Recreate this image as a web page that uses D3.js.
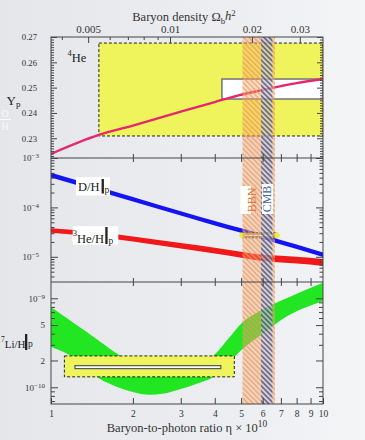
<!DOCTYPE html>
<html>
<head>
<meta charset="utf-8">
<script src="https://cdn.jsdelivr.net/npm/d3@7"></script>
<style>
  html, body { margin: 0; padding: 0; background: #eceef1; }
  svg { display: block; }
</style>
</head>
<body>
<svg id="chart" width="365" height="440"></svg>
<script>
// Primordial abundances of light elements versus the baryon-to-photon ratio

// eta (×10^10) sample points for He-4, D and He-3 predictions
const eta = [1, 1.5, 2, 3, 4, 5, 6, 7, 8, 10];
const ypMid = [0.2238, 0.2313, 0.2350, 0.2405, 0.2443, 0.2472, 0.2491, 0.2506, 0.2518, 0.2533];
const dhLow = [4.05e-4, 2.11e-4, 1.32e-4, 6.85e-5, 4.32e-5, 3.06e-5, 2.30e-5, 1.77e-5, 1.44e-5, 0.99e-5];
const dhHigh = [5.0e-4, 2.6e-4, 1.63e-4, 8.4e-5, 5.3e-5, 3.77e-5, 2.83e-5, 2.19e-5, 1.78e-5, 1.22e-5];
const he3Low = [3.06e-5, 2.5e-5, 2.04e-5, 1.47e-5, 1.16e-5, 9.57e-6, 8.2e-6, 7.7e-6, 7.3e-6, 6.55e-6];
const he3High = [3.77e-5, 3.14e-5, 2.59e-5, 1.9e-5, 1.52e-5, 1.265e-5, 1.1e-5, 1.05e-5, 1.0e-5, 9.05e-6];

// Li-7 band
const liEta = [1, 1.25, 1.5, 1.75, 2, 2.3, 2.6, 3, 3.5, 3.94, 4.5, 5, 6, 7.35, 10];
const liLow = [2.86e-10, 2.04e-10, 1.26e-10, 1.01e-10, 8.85e-11, 8.22e-11, 8.5e-11, 9.57e-11, 1.12e-10, 1.30e-10, 1.87e-10, 2.60e-10, 4.0e-10, 6.24e-10, 9.27e-10];
const liHigh = [7.92e-10, 4.94e-10, 3.33e-10, 2.38e-10, 1.91e-10, 1.62e-10, 1.58e-10, 1.66e-10, 1.91e-10, 2.25e-10, 3.55e-10, 5.19e-10, 7.5e-10, 1.0e-9, 1.49e-9];

// observational constraints (value ranges, eta ranges)
const ypObsOuter = [0.2309, 0.2676], ypObsOuterEta = [1.5, 10];
const ypObsInner = [0.2455, 0.2534], ypObsInnerEta = [4.25, 10];
const dhObsOuter = [2.42e-5, 3.08e-5], dhObsOuterEta = [5.04, 6.77];
const dhObsInner = [2.55e-5, 2.9e-5], dhObsInnerEta = [5.15, 6.6];
const liObsOuter = [1.31e-10, 2.25e-10], liObsOuterEta = [1.12, 4.72];
const liObsInner = [1.62e-10, 1.75e-10], liObsInnerEta = [1.225, 4.21];

// concordance ranges in eta
const bbnRange = [5.06, 6.66];
const cmbRange = [5.92, 6.52];

// ticks
const etaTicks = [1, 2, 3, 4, 5, 6, 7, 8, 9, 10];
const omegaTicks = [0.005, 0.01, 0.02, 0.03];
const omegaMinor = [0.004, 0.006, 0.007, 0.008, 0.009];
const ypTicks = [0.23, 0.24, 0.25, 0.26, 0.27];
const midTicks = [1e-3, 1e-4, 1e-5];
const botTicks = [1e-9, 5e-10, 2e-10, 1e-10];
const etaToOmega = 273.9;

const FONT = "'Liberation Serif', 'Times New Roman', serif";
const svg = d3.select("#chart").attr("font-family", FONT);
const L = 51, R = 323, T1 = 37, B1 = 158, B2 = 282, B3 = 404;

const x = d3.scaleLog().domain([1, 10]).range([L, R]);
const xOmega = d3.scaleLog().domain([1 / etaToOmega, 10 / etaToOmega]).range([L, R]);
const yTop = d3.scaleLinear().domain([0.2222, 0.27]).range([B1, T1]);
const yMid = d3.scaleLog().domain([Math.pow(10, -5.51), 1e-3]).range([B2, B1]);
const yBot = d3.scaleLog().domain([Math.pow(10, -10.188), Math.pow(10, -8.817)]).range([B3, B2]);

const defs = svg.append("defs");
const bg = defs.append("linearGradient").attr("id", "bg").attr("x1", 0).attr("x2", 1).attr("y1", 0).attr("y2", 0);
bg.append("stop").attr("offset", "0%").attr("stop-color", "#e4e6ea");
bg.append("stop").attr("offset", "65%").attr("stop-color", "#eceef1");
bg.append("stop").attr("offset", "100%").attr("stop-color", "#f4f5f7");

function hatch(id, color, w) {
  const p = defs.append("pattern").attr("id", id).attr("patternUnits", "userSpaceOnUse")
    .attr("width", 3.6).attr("height", 3.6).attr("patternTransform", "rotate(-45)");
  p.append("line").attr("x1", 1.8).attr("x2", 1.8).attr("y1", -1).attr("y2", 5)
    .attr("stroke", color).attr("stroke-width", w);
}
hatch("hOrange", "#ee965a", 1.3);
hatch("hNavy", "#363a68", 1.25);

[["cTop", T1, B1], ["cMid", B1, B2], ["cBot", B2, B3]].forEach(([id, a, b]) => {
  defs.append("clipPath").attr("id", id).append("rect").attr("x", L).attr("y", a).attr("width", R - L).attr("height", b - a);
});

svg.append("rect").attr("width", 365).attr("height", 440).attr("fill", "url(#bg)");

// faint fraction mark at the left edge
svg.append("text").attr("x", 5).attr("y", 117).attr("text-anchor", "middle").attr("font-size", 10)
  .attr("fill", "#ffffff").attr("opacity", 0.75).text("O");
svg.append("line").attr("x1", 0).attr("x2", 11).attr("y1", 119.5).attr("y2", 119.5)
  .attr("stroke", "#ffffff").attr("opacity", 0.75);
svg.append("text").attr("x", 5).attr("y", 129.5).attr("text-anchor", "middle").attr("font-size", 10)
  .attr("fill", "#ffffff").attr("opacity", 0.75).text("H");

const YELLOW = "#f0f45c";

function box(g, xs, ys, sx, sy, fill, stroke, dash, sw) {
  g.append("rect")
    .attr("x", sx(xs[0])).attr("width", sx(xs[1]) - sx(xs[0]))
    .attr("y", sy(ys[1])).attr("height", sy(ys[0]) - sy(ys[1]))
    .attr("fill", fill).attr("stroke", stroke).attr("stroke-width", sw)
    .attr("stroke-dasharray", dash);
}

// ---- He-4 panel
const gTop = svg.append("g").attr("clip-path", "url(#cTop)");
box(gTop, ypObsOuterEta, ypObsOuter, x, yTop, YELLOW, "#222", "3,2", 1);
box(gTop, ypObsInnerEta, ypObsInner, x, yTop, "#ffffff", "#7a7a7a", null, 1.6);
const ypData = eta.map((e, i) => ({ e, v: ypMid[i] }));
gTop.append("path").datum(ypData)
  .attr("d", d3.line().x(d => x(d.e)).y(d => yTop(d.v)).curve(d3.curveMonotoneX))
  .attr("fill", "none").attr("stroke", "#e4286e").attr("stroke-width", 2.4);

// ---- D and He-3 panel
const gMid = svg.append("g").attr("clip-path", "url(#cMid)");
const bandArea = (sy) => d3.area().x(d => x(d.e)).y0(d => sy(d.lo)).y1(d => sy(d.hi)).curve(d3.curveMonotoneX);
gMid.append("path").datum(eta.map((e, i) => ({ e, lo: dhLow[i], hi: dhHigh[i] })))
  .attr("d", bandArea(yMid)).attr("fill", "#1414f0");
gMid.append("path").datum(eta.map((e, i) => ({ e, lo: he3Low[i], hi: he3High[i] })))
  .attr("d", bandArea(yMid)).attr("fill", "#f01818");

box(gMid, dhObsOuterEta, dhObsOuter, x, yMid, YELLOW, "#222", "2,1.5", 1);
box(gMid, dhObsInnerEta, dhObsInner, x, yMid, "#ffffff", "#7a7a7a", null, 1.2);
const dhObsMid = Math.sqrt(dhObsOuter[0] * dhObsOuter[1]);
dhObsOuterEta.forEach(e => {
  gMid.append("circle").attr("cx", x(e)).attr("cy", yMid(dhObsMid)).attr("r", 2.8).attr("fill", "#e6f03a");
});

// ---- Li-7 panel
const gBot = svg.append("g").attr("clip-path", "url(#cBot)");
gBot.append("path").datum(liEta.map((e, i) => ({ e, lo: liLow[i], hi: liHigh[i] })))
  .attr("d", bandArea(yBot)).attr("fill", "#22e622");
box(gBot, liObsOuterEta, liObsOuter, x, yBot, YELLOW, "#222", "3,2", 1);
box(gBot, liObsInnerEta, liObsInner, x, yBot, "#ffffff", "#555", null, 1.2);

// ---- BBN and CMB vertical bands
const gBands = svg.append("g");
gBands.append("rect").attr("x", x(bbnRange[0])).attr("width", x(bbnRange[1]) - x(bbnRange[0]))
  .attr("y", T1).attr("height", B3 - T1).attr("fill", "#f7a468").attr("opacity", 0.34);
gBands.append("rect").attr("x", x(bbnRange[0])).attr("width", x(cmbRange[0]) - x(bbnRange[0]))
  .attr("y", T1).attr("height", B3 - T1).attr("fill", "url(#hOrange)").attr("opacity", 0.85);
gBands.append("rect").attr("x", x(cmbRange[1])).attr("width", x(bbnRange[1]) - x(cmbRange[1]))
  .attr("y", T1).attr("height", B3 - T1).attr("fill", "url(#hOrange)").attr("opacity", 0.85);
gBands.append("rect").attr("x", x(cmbRange[0])).attr("width", x(cmbRange[1]) - x(cmbRange[0]))
  .attr("y", T1).attr("height", B3 - T1).attr("fill", "#c9cde2").attr("opacity", 0.55);
gBands.append("rect").attr("x", x(cmbRange[0])).attr("width", x(cmbRange[1]) - x(cmbRange[0]))
  .attr("y", T1).attr("height", B3 - T1).attr("fill", "url(#hNavy)").attr("opacity", 0.95);

function vLabel(cx, cy, txt, color, rx0, rx1, ry0, ry1) {
  svg.append("rect").attr("x", rx0).attr("y", ry0).attr("width", rx1 - rx0).attr("height", ry1 - ry0).attr("fill", "#ffffff");
  svg.append("text").attr("transform", `translate(${cx},${cy}) rotate(-90)`)
    .attr("text-anchor", "middle").attr("dy", "0.35em").attr("font-size", 12)
    .attr("fill", color).text(txt);
}
vLabel((x(bbnRange[0]) + x(cmbRange[0])) / 2, 200, "BBN", "#e07c42", 240.5, 251, 186, 214);
vLabel((x(cmbRange[0]) + x(cmbRange[1])) / 2, 199, "CMB", "#3f6ba0", 262, 273, 184, 214);

// ---- frame
const AX = "#444";
svg.append("rect").attr("x", L).attr("y", T1).attr("width", R - L).attr("height", B3 - T1)
  .attr("fill", "none").attr("stroke", AX).attr("stroke-width", 1);
[B1, B2].forEach(y => svg.append("line").attr("x1", L).attr("x2", R).attr("y1", y).attr("y2", y)
  .attr("stroke", AX).attr("stroke-width", 1));

function axis(gen, tx, ty) {
  const g = svg.append("g").attr("transform", `translate(${tx},${ty})`).call(gen);
  g.select(".domain").remove();
  g.selectAll(".tick line").attr("stroke", AX);
  g.selectAll(".tick text").attr("fill", "#333").attr("font-family", FONT);
  return g;
}
function powerLabels(g, fs) {
  g.selectAll(".tick text").attr("font-size", fs).each(function (d) {
    const e = Math.round(Math.log10(d));
    const t = d3.select(this);
    if (Math.abs(d - Math.pow(10, e)) / d < 1e-6) {
      t.text(null);
      t.append("tspan").text("10");
      t.append("tspan").attr("dy", "-0.45em").attr("font-size", "0.78em").text("\u2212" + Math.abs(e));
    } else {
      t.text(Math.round(d / Math.pow(10, Math.floor(Math.log10(d)))));
    }
  });
}

// x ticks along panel edges
const etaInner = etaTicks.slice(1, -1);
axis(d3.axisBottom(x).tickValues(etaInner).tickSize(-4).tickFormat(""), 0, B1);
axis(d3.axisTop(x).tickValues(etaInner).tickSize(-4).tickFormat(""), 0, B1);
axis(d3.axisBottom(x).tickValues(etaInner).tickSize(-4).tickFormat(""), 0, B2);
axis(d3.axisTop(x).tickValues(etaInner).tickSize(-4).tickFormat(""), 0, B2);
axis(d3.axisBottom(x).tickValues(etaTicks).tickSize(-6).tickPadding(6.5).tickFormat(d3.format("d")), 0, B3)
  .selectAll(".tick text").attr("font-size", 9.5);

// top axis in baryon density
axis(d3.axisTop(xOmega).tickValues(omegaMinor).tickSize(-3).tickFormat(""), 0, T1);
axis(d3.axisTop(xOmega).tickValues(omegaTicks).tickSize(-6).tickPadding(4).tickFormat(d => String(d)), 0, T1)
  .selectAll(".tick text").attr("font-size", 11);

// He-4 y ticks
const ypMinor = d3.range(223, 270).filter(v => v % 10 !== 0).map(v => v / 1000);
axis(d3.axisLeft(yTop).tickValues(ypMinor).tickSize(-3).tickFormat(""), L, 0);
axis(d3.axisRight(yTop).tickValues(ypMinor).tickSize(-3).tickFormat(""), R, 0);
axis(d3.axisLeft(yTop).tickValues(ypTicks).tickSize(-6).tickPadding(14).tickFormat(d3.format(".2f")), L, 0)
  .selectAll(".tick text").attr("font-size", 8.7);
axis(d3.axisRight(yTop).tickValues(ypTicks).tickSize(-6).tickFormat(""), R, 0);

// D / He-3 y ticks
const midMinor = [];
[1e-4, 1e-5].forEach(b => { for (let k = 2; k <= 9; k++) midMinor.push(k * b); });
for (let k = 4; k <= 9; k++) midMinor.push(k * 1e-6);
axis(d3.axisLeft(yMid).tickValues(midMinor).tickSize(-3.5).tickFormat(""), L, 0);
axis(d3.axisRight(yMid).tickValues(midMinor).tickSize(-3.5).tickFormat(""), R, 0);
powerLabels(axis(d3.axisLeft(yMid).tickValues(midTicks).tickSize(-7).tickPadding(12), L, 0), 9);
axis(d3.axisRight(yMid).tickValues(midTicks).tickSize(-7).tickFormat(""), R, 0);

// Li-7 y ticks
const botMinor = [7e-11, 8e-11, 9e-11, 3e-10, 4e-10, 6e-10, 7e-10, 8e-10, 9e-10];
axis(d3.axisLeft(yBot).tickValues(botMinor).tickSize(-4).tickFormat(""), L, 0);
axis(d3.axisRight(yBot).tickValues(botMinor).tickSize(-4).tickFormat(""), R, 0);
powerLabels(axis(d3.axisLeft(yBot).tickValues(botTicks).tickSize(-7).tickPadding(6), L, 0), 9);
axis(d3.axisRight(yBot).tickValues(botTicks).tickSize(-7).tickFormat(""), R, 0);

// ---- axis titles
const topTitle = svg.append("text").attr("x", 184).attr("y", 21).attr("text-anchor", "middle")
  .attr("font-size", 12.5).attr("fill", "#333");
topTitle.append("tspan").text("Baryon density \u03A9");
topTitle.append("tspan").attr("font-size", "0.7em").attr("dy", "0.3em").text("b");
topTitle.append("tspan").attr("dy", "-0.3em").attr("font-style", "italic").text("h");
topTitle.append("tspan").attr("font-size", "0.7em").attr("dy", "-0.45em").text("2");

const bottomTitle = svg.append("text").attr("x", 187).attr("y", 432).attr("text-anchor", "middle")
  .attr("font-size", 12.5).attr("fill", "#333");
bottomTitle.append("tspan").text("Baryon-to-photon ratio \u03B7 \u00D7 10");
bottomTitle.append("tspan").attr("font-size", "0.75em").attr("dy", "-0.5em").text("10");

// ---- panel labels
function bar(x0, y0, h) {
  svg.append("rect").attr("x", x0).attr("y", y0).attr("width", 2.3).attr("height", h).attr("fill", "#222");
}
// Y_p
const ypLabel = svg.append("text").attr("x", 6.5).attr("y", 105).attr("font-size", 13).attr("fill", "#222");
ypLabel.append("tspan").text("Y");
ypLabel.append("tspan").attr("font-size", "0.7em").attr("dy", "0.22em").text("p");

// 4He
const heLabel = svg.append("text").attr("x", 67.5).attr("y", 60).attr("font-size", 12.5).attr("fill", "#222");
heLabel.append("tspan").attr("font-size", "0.68em").attr("dy", "-0.45em").text("4");
heLabel.append("tspan").attr("dy", "0.45em").text("He");

// D/H|p
svg.append("rect").attr("x", 76).attr("y", 177).attr("width", 34).attr("height", 18.5).attr("fill", "#ffffff");
svg.append("text").attr("x", 78).attr("y", 190.5).attr("font-size", 12.5).attr("fill", "#222").text("D/H");
bar(101.6, 179, 14.5);
svg.append("text").attr("x", 104.6).attr("y", 193).attr("font-size", 9.5).attr("fill", "#222").text("p");

// 3He/H|p
svg.append("rect").attr("x", 72.7).attr("y", 226.2).attr("width", 45.6).attr("height", 18.3).attr("fill", "#ffffff");
const he3Label = svg.append("text").attr("x", 72.8).attr("y", 240.7).attr("font-size", 12.5).attr("fill", "#222");
he3Label.append("tspan").attr("font-size", "0.68em").attr("dy", "-0.5em").text("3");
he3Label.append("tspan").attr("dy", "0.5em").text("He/H");
bar(105.3, 227, 17);
svg.append("text").attr("x", 108.4).attr("y", 244).attr("font-size", 9.5).attr("fill", "#222").text("p");

// 7Li/H|p
const liLabel = svg.append("text").attr("x", 1).attr("y", 346).attr("font-size", 11).attr("fill", "#222");
liLabel.append("tspan").attr("font-size", "0.68em").attr("dy", "-0.5em").text("7");
liLabel.append("tspan").attr("dy", "0.5em").text("Li/H");
bar(25, 334, 16);
svg.append("text").attr("x", 28).attr("y", 347).attr("font-size", 9.5).attr("fill", "#222").text("p");
</script>
</body>
</html>
